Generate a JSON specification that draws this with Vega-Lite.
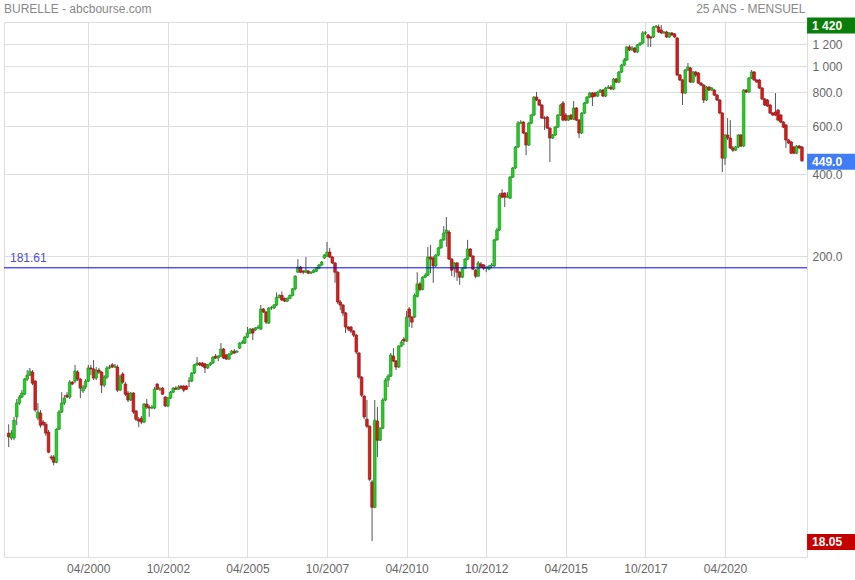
{
"$schema": "https://vega.github.io/schema/vega-lite/v6.json",
"width": 803, "height": 535,
"autosize": {"type": "none"},
"padding": {"left": 4, "top": 22, "right": 48, "bottom": 23},
"background": "white",
"config": {"view": {"stroke": "#dddddd"}, "font": "Liberation Sans"},
"title": {"text": "BURELLE - abcbourse.com", "anchor": "start", "frame": "group", "fontSize": 12, "fontWeight": "normal", "color": "#888888", "font": "Liberation Sans", "offset": 2, "dy": 16},
"datasets": {
"px": [
{"d":"1997-10-01","o":44.9,"h":48.4,"l":39.9,"c":43.5},
{"d":"1997-11-01","o":43.1,"h":46.1,"l":42.3,"c":44.9},
{"d":"1997-12-01","o":43.1,"h":51.5,"l":42.3,"c":50.1},
{"d":"1998-01-01","o":51.5,"h":59.9,"l":48.0,"c":57.9},
{"d":"1998-02-01","o":57.9,"h":61.9,"l":56.9,"c":60.9},
{"d":"1998-03-01","o":60.9,"h":64.6,"l":60.4,"c":63.0},
{"d":"1998-04-01","o":62.4,"h":71.5,"l":61.9,"c":70.9},
{"d":"1998-05-01","o":70.9,"h":76.5,"l":69.7,"c":73.3},
{"d":"1998-06-01","o":73.3,"h":77.9,"l":72.7,"c":75.9},
{"d":"1998-07-01","o":75.2,"h":76.5,"l":67.4,"c":68.5},
{"d":"1998-08-01","o":69.7,"h":70.3,"l":53.7,"c":54.6},
{"d":"1998-09-01","o":51.0,"h":57.9,"l":50.1,"c":53.7},
{"d":"1998-10-01","o":53.2,"h":54.6,"l":47.0,"c":48.0},
{"d":"1998-11-01","o":49.3,"h":50.1,"l":47.6,"c":48.4},
{"d":"1998-12-01","o":48.4,"h":49.3,"l":43.9,"c":44.9},
{"d":"1999-01-01","o":45.3,"h":46.1,"l":37.9,"c":38.2},
{"d":"1999-02-01","o":36.7,"h":37.3,"l":35.7,"c":36.4},
{"d":"1999-03-01","o":36.7,"h":37.3,"l":34.2,"c":35.1},
{"d":"1999-04-01","o":35.1,"h":46.8,"l":34.8,"c":46.4},
{"d":"1999-05-01","o":46.4,"h":54.6,"l":46.1,"c":53.7},
{"d":"1999-06-01","o":53.7,"h":63.5,"l":53.2,"c":57.9},
{"d":"1999-07-01","o":57.9,"h":61.9,"l":56.9,"c":60.4},
{"d":"1999-08-01","o":61.9,"h":63.5,"l":60.4,"c":60.9},
{"d":"1999-09-01","o":60.9,"h":70.3,"l":59.9,"c":69.1},
{"d":"1999-10-01","o":69.1,"h":69.7,"l":67.4,"c":68.0},
{"d":"1999-11-01","o":69.7,"h":79.9,"l":68.5,"c":75.9},
{"d":"1999-12-01","o":75.2,"h":76.5,"l":69.7,"c":70.9},
{"d":"2000-01-01","o":70.9,"h":71.5,"l":60.4,"c":65.7},
{"d":"2000-02-01","o":64.1,"h":67.4,"l":63.0,"c":66.3},
{"d":"2000-03-01","o":66.3,"h":70.9,"l":65.2,"c":69.7},
{"d":"2000-04-01","o":69.7,"h":80.0,"l":69.1,"c":77.9},
{"d":"2000-05-01","o":77.9,"h":80.0,"l":73.3,"c":77.2},
{"d":"2000-06-01","o":77.2,"h":83.3,"l":70.3,"c":71.5},
{"d":"2000-07-01","o":71.5,"h":78.5,"l":70.3,"c":76.5},
{"d":"2000-08-01","o":76.5,"h":77.9,"l":74.0,"c":75.2},
{"d":"2000-09-01","o":75.2,"h":75.9,"l":63.0,"c":67.4},
{"d":"2000-10-01","o":67.4,"h":73.3,"l":66.3,"c":72.1},
{"d":"2000-11-01","o":72.1,"h":79.2,"l":70.9,"c":77.9},
{"d":"2000-12-01","o":77.9,"h":80.0,"l":77.2,"c":78.5},
{"d":"2001-01-01","o":80.0,"h":81.2,"l":77.9,"c":78.5},
{"d":"2001-02-01","o":78.5,"h":80.6,"l":77.9,"c":79.2},
{"d":"2001-03-01","o":78.5,"h":80.0,"l":63.5,"c":64.6},
{"d":"2001-04-01","o":64.6,"h":73.3,"l":64.1,"c":72.7},
{"d":"2001-05-01","o":74.0,"h":75.2,"l":68.0,"c":69.1},
{"d":"2001-06-01","o":68.0,"h":69.1,"l":61.4,"c":62.4},
{"d":"2001-07-01","o":63.0,"h":64.1,"l":58.4,"c":59.4},
{"d":"2001-08-01","o":59.4,"h":63.5,"l":58.9,"c":63.0},
{"d":"2001-09-01","o":63.0,"h":63.5,"l":52.8,"c":53.7},
{"d":"2001-10-01","o":54.1,"h":54.6,"l":49.7,"c":50.5},
{"d":"2001-11-01","o":50.5,"h":51.5,"l":47.2,"c":49.7},
{"d":"2001-12-01","o":50.9,"h":51.9,"l":48.4,"c":49.3},
{"d":"2002-01-01","o":49.3,"h":57.9,"l":48.8,"c":57.4},
{"d":"2002-02-01","o":57.4,"h":59.9,"l":55.0,"c":56.0},
{"d":"2002-03-01","o":56.0,"h":56.9,"l":51.5,"c":55.5},
{"d":"2002-04-01","o":55.5,"h":56.9,"l":55.0,"c":56.0},
{"d":"2002-05-01","o":55.5,"h":66.3,"l":55.0,"c":65.1},
{"d":"2002-06-01","o":68.0,"h":68.5,"l":64.6,"c":65.1},
{"d":"2002-07-01","o":65.1,"h":66.3,"l":64.1,"c":65.2},
{"d":"2002-08-01","o":65.7,"h":66.3,"l":61.9,"c":62.4},
{"d":"2002-09-01","o":60.9,"h":61.4,"l":56.0,"c":56.5},
{"d":"2002-10-01","o":56.5,"h":60.9,"l":56.0,"c":60.4},
{"d":"2002-11-01","o":60.4,"h":64.1,"l":59.9,"c":63.5},
{"d":"2002-12-01","o":63.5,"h":66.3,"l":63.0,"c":65.7},
{"d":"2003-01-01","o":65.7,"h":66.8,"l":64.6,"c":65.1},
{"d":"2003-02-01","o":65.1,"h":67.4,"l":64.6,"c":66.3},
{"d":"2003-03-01","o":66.8,"h":67.4,"l":65.1,"c":65.7},
{"d":"2003-04-01","o":66.8,"h":67.4,"l":63.5,"c":64.6},
{"d":"2003-05-01","o":66.8,"h":67.4,"l":64.6,"c":65.1},
{"d":"2003-06-01","o":69.7,"h":72.1,"l":66.3,"c":69.8},
{"d":"2003-07-01","o":69.7,"h":75.2,"l":69.1,"c":74.6},
{"d":"2003-08-01","o":74.6,"h":80.6,"l":74.0,"c":80.0},
{"d":"2003-09-01","o":80.0,"h":85.4,"l":79.2,"c":81.2},
{"d":"2003-10-01","o":81.2,"h":81.9,"l":79.2,"c":80.0},
{"d":"2003-11-01","o":81.2,"h":81.9,"l":78.5,"c":79.2},
{"d":"2003-12-01","o":80.6,"h":81.2,"l":74.6,"c":77.9},
{"d":"2004-01-01","o":77.9,"h":80.6,"l":77.2,"c":80.0},
{"d":"2004-02-01","o":80.0,"h":81.9,"l":79.2,"c":81.2},
{"d":"2004-03-01","o":81.2,"h":86.1,"l":80.6,"c":85.4},
{"d":"2004-04-01","o":86.1,"h":87.6,"l":84.0,"c":84.7},
{"d":"2004-05-01","o":84.7,"h":86.9,"l":82.6,"c":86.1},
{"d":"2004-06-01","o":86.1,"h":96.1,"l":85.4,"c":91.4},
{"d":"2004-07-01","o":91.4,"h":92.2,"l":84.0,"c":84.7},
{"d":"2004-08-01","o":86.9,"h":87.6,"l":83.3,"c":84.0},
{"d":"2004-09-01","o":84.0,"h":88.4,"l":83.3,"c":87.6},
{"d":"2004-10-01","o":87.6,"h":90.6,"l":86.9,"c":89.8},
{"d":"2004-11-01","o":89.8,"h":91.4,"l":87.6,"c":88.4},
{"d":"2004-12-01","o":89.1,"h":90.6,"l":88.4,"c":89.8},
{"d":"2005-01-01","o":92.1,"h":96.9,"l":91.4,"c":96.1},
{"d":"2005-02-01","o":96.1,"h":98.6,"l":95.3,"c":96.9},
{"d":"2005-03-01","o":96.1,"h":102.0,"l":95.3,"c":101.1},
{"d":"2005-04-01","o":101.1,"h":110.1,"l":100.3,"c":104.6},
{"d":"2005-05-01","o":104.6,"h":109.2,"l":103.8,"c":108.2},
{"d":"2005-06-01","o":108.2,"h":109.2,"l":98.6,"c":104.6},
{"d":"2005-07-01","o":107.3,"h":110.1,"l":106.4,"c":109.2},
{"d":"2005-08-01","o":109.2,"h":111.9,"l":108.2,"c":110.1},
{"d":"2005-09-01","o":108.2,"h":132.6,"l":107.3,"c":128.2},
{"d":"2005-10-01","o":128.2,"h":129.3,"l":124.0,"c":125.0},
{"d":"2005-11-01","o":125.0,"h":126.1,"l":112.9,"c":114.8},
{"d":"2005-12-01","o":113.8,"h":130.4,"l":112.9,"c":129.3},
{"d":"2006-01-01","o":129.3,"h":131.5,"l":127.1,"c":129.8},
{"d":"2006-02-01","o":129.3,"h":133.7,"l":128.2,"c":132.6},
{"d":"2006-03-01","o":132.6,"h":147.5,"l":131.5,"c":141.4},
{"d":"2006-04-01","o":141.4,"h":145.0,"l":140.2,"c":143.8},
{"d":"2006-05-01","o":143.8,"h":148.7,"l":137.1,"c":138.3},
{"d":"2006-06-01","o":140.2,"h":141.4,"l":136.0,"c":137.1},
{"d":"2006-07-01","o":137.1,"h":141.4,"l":136.0,"c":140.2},
{"d":"2006-08-01","o":140.2,"h":145.0,"l":139.1,"c":143.8},
{"d":"2006-09-01","o":143.8,"h":153.3,"l":142.6,"c":152.0},
{"d":"2006-10-01","o":152.0,"h":170.6,"l":150.0,"c":169.2},
{"d":"2006-11-01","o":175.0,"h":195.5,"l":173.6,"c":182.8},
{"d":"2006-12-01","o":182.8,"h":184.4,"l":173.6,"c":175.0},
{"d":"2007-01-01","o":176.5,"h":178.0,"l":172.1,"c":175.0},
{"d":"2007-02-01","o":175.0,"h":198.9,"l":173.6,"c":178.0},
{"d":"2007-03-01","o":176.5,"h":178.0,"l":172.1,"c":173.6},
{"d":"2007-04-01","o":173.6,"h":176.5,"l":172.1,"c":175.0},
{"d":"2007-05-01","o":175.0,"h":179.5,"l":173.6,"c":178.0},
{"d":"2007-06-01","o":176.5,"h":182.8,"l":175.0,"c":181.0},
{"d":"2007-07-01","o":181.0,"h":187.6,"l":179.5,"c":186.0},
{"d":"2007-08-01","o":186.0,"h":192.4,"l":184.4,"c":190.8},
{"d":"2007-09-01","o":197.2,"h":204.0,"l":195.5,"c":202.3},
{"d":"2007-10-01","o":200.5,"h":226.1,"l":198.9,"c":207.5},
{"d":"2007-11-01","o":207.5,"h":215.0,"l":197.2,"c":198.9},
{"d":"2007-12-01","o":198.9,"h":200.5,"l":187.6,"c":189.2},
{"d":"2008-01-01","o":189.2,"h":190.7,"l":160.0,"c":175.0},
{"d":"2008-02-01","o":175.0,"h":176.5,"l":133.7,"c":136.0},
{"d":"2008-03-01","o":136.0,"h":138.3,"l":127.1,"c":132.6},
{"d":"2008-04-01","o":132.6,"h":133.7,"l":121.0,"c":124.0},
{"d":"2008-05-01","o":124.0,"h":125.0,"l":104.6,"c":110.1},
{"d":"2008-06-01","o":110.1,"h":111.0,"l":106.4,"c":108.2},
{"d":"2008-07-01","o":110.1,"h":111.0,"l":104.6,"c":106.4},
{"d":"2008-08-01","o":106.4,"h":107.3,"l":101.1,"c":102.8},
{"d":"2008-09-01","o":102.8,"h":103.7,"l":87.6,"c":89.1},
{"d":"2008-10-01","o":88.4,"h":89.1,"l":70.9,"c":72.1},
{"d":"2008-11-01","o":72.1,"h":72.7,"l":60.9,"c":61.9},
{"d":"2008-12-01","o":61.4,"h":61.9,"l":50.5,"c":51.5},
{"d":"2009-01-01","o":50.5,"h":59.4,"l":46.8,"c":47.6},
{"d":"2009-02-01","o":47.6,"h":48.0,"l":29.9,"c":30.4},
{"d":"2009-03-01","o":29.7,"h":30.2,"l":18.05,"c":24.0},
{"d":"2009-04-01","o":24.0,"h":59.4,"l":23.8,"c":50.1},
{"d":"2009-05-01","o":49.7,"h":56.0,"l":36.7,"c":42.3},
{"d":"2009-06-01","o":42.3,"h":47.2,"l":42.0,"c":46.8},
{"d":"2009-07-01","o":46.8,"h":60.4,"l":46.5,"c":59.4},
{"d":"2009-08-01","o":59.4,"h":71.5,"l":58.9,"c":70.3},
{"d":"2009-09-01","o":70.3,"h":74.0,"l":66.3,"c":72.7},
{"d":"2009-10-01","o":72.7,"h":88.4,"l":72.1,"c":86.9},
{"d":"2009-11-01","o":86.1,"h":92.1,"l":81.9,"c":82.6},
{"d":"2009-12-01","o":82.6,"h":83.3,"l":76.5,"c":78.5},
{"d":"2010-01-01","o":78.5,"h":94.5,"l":77.9,"c":93.7},
{"d":"2010-02-01","o":93.7,"h":98.6,"l":92.9,"c":96.9},
{"d":"2010-03-01","o":99.4,"h":101.1,"l":94.5,"c":97.8},
{"d":"2010-04-01","o":97.8,"h":126.0,"l":96.9,"c":119.8},
{"d":"2010-05-01","o":128.2,"h":130.4,"l":110.1,"c":119.8},
{"d":"2010-06-01","o":119.8,"h":120.8,"l":109.2,"c":114.8},
{"d":"2010-07-01","o":119.8,"h":146.2,"l":118.8,"c":143.8},
{"d":"2010-08-01","o":142.6,"h":175.0,"l":141.4,"c":158.5},
{"d":"2010-09-01","o":158.5,"h":161.3,"l":148.7,"c":151.3},
{"d":"2010-10-01","o":151.3,"h":169.2,"l":150.0,"c":167.8},
{"d":"2010-11-01","o":167.8,"h":173.6,"l":166.4,"c":170.6},
{"d":"2010-12-01","o":170.6,"h":216.8,"l":169.2,"c":198.9},
{"d":"2011-01-01","o":198.9,"h":220.5,"l":173.6,"c":195.5},
{"d":"2011-02-01","o":197.2,"h":200.5,"l":160.0,"c":184.4},
{"d":"2011-03-01","o":184.4,"h":204.0,"l":182.8,"c":202.3},
{"d":"2011-04-01","o":202.3,"h":216.8,"l":200.5,"c":215.0},
{"d":"2011-05-01","o":215.0,"h":232.0,"l":213.2,"c":230.0},
{"d":"2011-06-01","o":230.0,"h":258.5,"l":228.0,"c":243.8},
{"d":"2011-07-01","o":243.8,"h":279.0,"l":217.0,"c":250.0},
{"d":"2011-08-01","o":245.8,"h":250.0,"l":194.0,"c":195.5},
{"d":"2011-09-01","o":195.5,"h":197.2,"l":169.2,"c":178.0},
{"d":"2011-10-01","o":181.0,"h":190.8,"l":167.8,"c":189.2},
{"d":"2011-11-01","o":189.2,"h":190.8,"l":162.6,"c":175.0},
{"d":"2011-12-01","o":175.0,"h":176.5,"l":157.2,"c":167.8},
{"d":"2012-01-01","o":167.8,"h":182.5,"l":166.4,"c":181.0},
{"d":"2012-02-01","o":181.0,"h":197.2,"l":179.5,"c":195.5},
{"d":"2012-03-01","o":195.5,"h":230.0,"l":194.0,"c":212.8},
{"d":"2012-04-01","o":212.8,"h":214.6,"l":198.9,"c":200.5},
{"d":"2012-05-01","o":200.5,"h":202.3,"l":178.0,"c":179.5},
{"d":"2012-06-01","o":178.0,"h":179.5,"l":166.4,"c":169.2},
{"d":"2012-07-01","o":169.2,"h":192.4,"l":167.8,"c":189.2},
{"d":"2012-08-01","o":187.6,"h":190.8,"l":181.0,"c":182.8},
{"d":"2012-09-01","o":186.0,"h":187.6,"l":178.0,"c":181.0},
{"d":"2012-10-01","o":181.0,"h":184.4,"l":175.0,"c":181.5},
{"d":"2012-11-01","o":179.5,"h":186.0,"l":178.0,"c":184.4},
{"d":"2012-12-01","o":184.4,"h":189.2,"l":181.0,"c":186.0},
{"d":"2013-01-01","o":184.4,"h":232.0,"l":182.8,"c":230.0},
{"d":"2013-02-01","o":230.0,"h":254.2,"l":228.0,"c":250.0},
{"d":"2013-03-01","o":250.0,"h":341.3,"l":248.0,"c":335.5},
{"d":"2013-04-01","o":341.3,"h":353.1,"l":327.0,"c":329.9},
{"d":"2013-05-01","o":341.3,"h":344.1,"l":303.5,"c":329.9},
{"d":"2013-06-01","o":329.9,"h":344.1,"l":327.1,"c":332.7},
{"d":"2013-07-01","o":327.1,"h":394.4,"l":324.4,"c":391.1},
{"d":"2013-08-01","o":391.1,"h":426.0,"l":387.8,"c":422.4},
{"d":"2013-09-01","o":422.4,"h":508.5,"l":418.9,"c":504.2},
{"d":"2013-10-01","o":504.2,"h":627.7,"l":500.0,"c":617.2},
{"d":"2013-11-01","o":617.2,"h":633.0,"l":612.0,"c":622.4},
{"d":"2013-12-01","o":622.4,"h":627.7,"l":562.7,"c":567.5},
{"d":"2014-01-01","o":567.5,"h":572.3,"l":470.7,"c":512.8},
{"d":"2014-02-01","o":512.8,"h":622.4,"l":508.5,"c":617.2},
{"d":"2014-03-01","o":617.2,"h":666.0,"l":612.0,"c":660.5},
{"d":"2014-04-01","o":660.5,"h":775.6,"l":655.0,"c":769.1},
{"d":"2014-05-01","o":769.1,"h":803.0,"l":743.7,"c":750.0},
{"d":"2014-06-01","o":750.0,"h":756.4,"l":713.0,"c":719.0},
{"d":"2014-07-01","o":719.0,"h":725.0,"l":638.5,"c":644.0},
{"d":"2014-08-01","o":644.0,"h":655.0,"l":582.0,"c":643.0},
{"d":"2014-09-01","o":649.5,"h":655.0,"l":587.0,"c":591.6},
{"d":"2014-10-01","o":591.6,"h":596.6,"l":444.4,"c":543.9},
{"d":"2014-11-01","o":543.9,"h":562.6,"l":539.4,"c":557.9},
{"d":"2014-12-01","o":557.9,"h":601.7,"l":553.2,"c":596.6},
{"d":"2015-01-01","o":596.6,"h":666.0,"l":591.6,"c":660.5},
{"d":"2015-02-01","o":660.5,"h":725.0,"l":655.0,"c":719.0},
{"d":"2015-03-01","o":731.3,"h":743.7,"l":627.7,"c":633.0},
{"d":"2015-04-01","o":660.5,"h":671.6,"l":627.7,"c":633.0},
{"d":"2015-05-01","o":633.0,"h":660.5,"l":627.7,"c":655.0},
{"d":"2015-06-01","o":660.5,"h":666.0,"l":633.0,"c":638.5},
{"d":"2015-07-01","o":638.5,"h":743.7,"l":633.0,"c":701.0},
{"d":"2015-08-01","o":701.0,"h":707.0,"l":627.7,"c":633.0},
{"d":"2015-09-01","o":633.0,"h":638.5,"l":544.0,"c":567.5},
{"d":"2015-10-01","o":567.5,"h":677.4,"l":562.7,"c":671.8},
{"d":"2015-11-01","o":671.8,"h":737.5,"l":666.0,"c":731.3},
{"d":"2015-12-01","o":731.3,"h":775.6,"l":725.0,"c":769.1},
{"d":"2016-01-01","o":769.1,"h":802.3,"l":762.6,"c":795.6},
{"d":"2016-02-01","o":795.6,"h":802.3,"l":713.0,"c":769.1},
{"d":"2016-03-01","o":795.6,"h":802.3,"l":769.1,"c":775.6},
{"d":"2016-04-01","o":775.6,"h":809.0,"l":769.1,"c":802.3},
{"d":"2016-05-01","o":802.3,"h":823.0,"l":795.6,"c":816.0},
{"d":"2016-06-01","o":816.0,"h":823.0,"l":769.1,"c":775.6},
{"d":"2016-07-01","o":775.6,"h":836.9,"l":769.1,"c":829.9},
{"d":"2016-08-01","o":829.9,"h":851.0,"l":823.0,"c":836.9},
{"d":"2016-09-01","o":836.9,"h":851.0,"l":816.0,"c":823.0},
{"d":"2016-10-01","o":823.0,"h":903.7,"l":816.0,"c":896.1},
{"d":"2016-11-01","o":896.1,"h":903.7,"l":865.7,"c":873.0},
{"d":"2016-12-01","o":873.0,"h":958.8,"l":865.7,"c":950.8},
{"d":"2017-01-01","o":950.8,"h":1017,"l":942.8,"c":1008.4},
{"d":"2017-02-01","o":1008.4,"h":1070,"l":1000,"c":1052},
{"d":"2017-03-01","o":1052,"h":1184.4,"l":1043,"c":1174.4},
{"d":"2017-04-01","o":1174.4,"h":1194,"l":1135,"c":1145},
{"d":"2017-05-01","o":1145,"h":1184.4,"l":1135,"c":1164.5},
{"d":"2017-06-01","o":1164.5,"h":1174.4,"l":1116,"c":1126},
{"d":"2017-07-01","o":1126,"h":1204,"l":1116,"c":1194},
{"d":"2017-08-01","o":1194,"h":1225,"l":1184.4,"c":1214},
{"d":"2017-09-01","o":1214,"h":1345,"l":1204,"c":1322},
{"d":"2017-10-01","o":1322,"h":1345,"l":1300,"c":1325},
{"d":"2017-11-01","o":1300,"h":1311,"l":1174.4,"c":1267},
{"d":"2017-12-01","o":1278,"h":1289,"l":1174.4,"c":1267},
{"d":"2018-01-01","o":1278,"h":1402,"l":1267,"c":1390},
{"d":"2018-02-01","o":1390,"h":1414,"l":1379,"c":1402},
{"d":"2018-03-01","o":1390,"h":1420,"l":1322,"c":1333},
{"d":"2018-04-01","o":1356,"h":1414,"l":1311,"c":1322},
{"d":"2018-05-01","o":1322,"h":1345,"l":1311,"c":1333},
{"d":"2018-06-01","o":1333,"h":1345,"l":1267,"c":1278},
{"d":"2018-07-01","o":1278,"h":1333,"l":1267,"c":1322},
{"d":"2018-08-01","o":1322,"h":1333,"l":1289,"c":1300},
{"d":"2018-09-01","o":1311,"h":1322,"l":1267,"c":1278},
{"d":"2018-10-01","o":1267,"h":1278,"l":919,"c":927},
{"d":"2018-11-01","o":927,"h":934.6,"l":880.5,"c":888},
{"d":"2018-12-01","o":888,"h":895.5,"l":719,"c":795.6},
{"d":"2019-01-01","o":795.6,"h":975,"l":789,"c":967},
{"d":"2019-02-01","o":967,"h":1026,"l":958.8,"c":991.6},
{"d":"2019-03-01","o":983,"h":991.6,"l":865.7,"c":873},
{"d":"2019-04-01","o":873,"h":958.8,"l":865.7,"c":950.8},
{"d":"2019-05-01","o":950.8,"h":958.8,"l":911,"c":927},
{"d":"2019-06-01","o":942.8,"h":950.8,"l":858.5,"c":865.7},
{"d":"2019-07-01","o":865.7,"h":873,"l":843.9,"c":851},
{"d":"2019-08-01","o":851,"h":858.5,"l":731.3,"c":750},
{"d":"2019-09-01","o":750,"h":844,"l":743.7,"c":836.9},
{"d":"2019-10-01","o":836.9,"h":844,"l":809,"c":816},
{"d":"2019-11-01","o":816,"h":836.9,"l":809,"c":829.9},
{"d":"2019-12-01","o":816,"h":823,"l":775.6,"c":782.2},
{"d":"2020-01-01","o":782.2,"h":789,"l":743.7,"c":750},
{"d":"2020-02-01","o":750,"h":756.4,"l":666,"c":671.8},
{"d":"2020-03-01","o":671.8,"h":677.4,"l":408,"c":458.9},
{"d":"2020-04-01","o":458.9,"h":562.6,"l":433.3,"c":557.9},
{"d":"2020-05-01","o":557.9,"h":644,"l":535,"c":544},
{"d":"2020-06-01","o":544,"h":633,"l":495.8,"c":500},
{"d":"2020-07-01","o":500,"h":508.5,"l":482.8,"c":491},
{"d":"2020-08-01","o":491,"h":508.5,"l":487,"c":504.2},
{"d":"2020-09-01","o":504.2,"h":562.6,"l":500,"c":557.9},
{"d":"2020-10-01","o":557.9,"h":562.6,"l":504.2,"c":508.5},
{"d":"2020-11-01","o":508.5,"h":823,"l":504.2,"c":816},
{"d":"2020-12-01","o":816,"h":823,"l":795.6,"c":803},
{"d":"2021-01-01","o":803,"h":911,"l":795.6,"c":903.7},
{"d":"2021-02-01","o":903.7,"h":967,"l":896.1,"c":950.8},
{"d":"2021-03-01","o":950.8,"h":958.8,"l":880.5,"c":888},
{"d":"2021-04-01","o":888,"h":896.1,"l":865.7,"c":873},
{"d":"2021-05-01","o":888,"h":896.1,"l":823,"c":829.9},
{"d":"2021-06-01","o":829.9,"h":836.9,"l":750,"c":756.4},
{"d":"2021-07-01","o":756.4,"h":763,"l":713,"c":719},
{"d":"2021-08-01","o":750,"h":756.4,"l":707,"c":713},
{"d":"2021-09-01","o":719,"h":725,"l":666,"c":671.8},
{"d":"2021-10-01","o":671.8,"h":677.4,"l":655,"c":660.5},
{"d":"2021-11-01","o":677.4,"h":795.6,"l":655,"c":660.5},
{"d":"2021-12-01","o":689,"h":694.8,"l":627.7,"c":633},
{"d":"2022-01-01","o":660.5,"h":666,"l":617.2,"c":622.4},
{"d":"2022-02-01","o":622.4,"h":627.7,"l":591.6,"c":596.6},
{"d":"2022-03-01","o":607,"h":612,"l":500,"c":535},
{"d":"2022-04-01","o":535,"h":539.5,"l":517,"c":521.6},
{"d":"2022-05-01","o":526,"h":530.5,"l":474.7,"c":478.7},
{"d":"2022-06-01","o":504.2,"h":508.5,"l":474.7,"c":478.7},
{"d":"2022-07-01","o":478.7,"h":512.8,"l":474.7,"c":508.5},
{"d":"2022-08-01","o":508.5,"h":512.8,"l":495.8,"c":500},
{"d":"2022-09-01","o":504.2,"h":508.5,"l":444.4,"c":449.0}
],
"tags": [
{"v":1420,"t":"1 420","k":"hi"},
{"v":449.0,"t":"449.0","k":"last"},
{"v":18.05,"t":"18.05","k":"lo"}
],
"ref": [
{"v":181.61,"t":"181.61","d":"1997-10-16"}
]
},
"layer": [
{
"data": {"name": "px"},
"mark": {"type": "rule", "color": "#555555", "strokeWidth": 1},
"encoding": {
"x": {"field": "d", "type": "temporal",
"scale": {"type": "utc", "padding": 0, "domain": [{"year": 1997, "month": 8, "date": 8, "utc": true}, {"year": 2022, "month": 10, "date": 29, "utc": true}]},
"axis": {"title": null, "values": [
{"year": 2000, "month": 4, "date": 1, "utc": true},
{"year": 2002, "month": 10, "date": 1, "utc": true},
{"year": 2005, "month": 4, "date": 1, "utc": true},
{"year": 2007, "month": 10, "date": 1, "utc": true},
{"year": 2010, "month": 4, "date": 1, "utc": true},
{"year": 2012, "month": 10, "date": 1, "utc": true},
{"year": 2015, "month": 4, "date": 1, "utc": true},
{"year": 2017, "month": 10, "date": 1, "utc": true},
{"year": 2020, "month": 4, "date": 1, "utc": true}],
"format": "%m/%Y", "grid": true, "gridColor": "#dddddd", "gridWidth": 1, "ticks": false, "domain": false,
"labelPadding": 6, "labelFontSize": 12, "labelColor": "#666666", "labelFont": "Liberation Sans", "labelFlush": false, "labelOverlap": false}},
"y": {"field": "l", "type": "quantitative",
"scale": {"type": "log", "domain": [15.76, 1450.6], "nice": false, "zero": false, "padding": 0},
"axis": {"orient": "right", "values": [200, 400, 600, 800, 1000, 1200],
"labelExpr": "datum.value == 1200 ? '1 200' : datum.value == 1000 ? '1 000' : format(datum.value, '.1f')",
"grid": true, "gridColor": "#dddddd", "gridWidth": 1, "ticks": false, "domain": false, "labelPadding": 5,
"labelFontSize": 12, "labelColor": "#666666", "labelFont": "Liberation Sans", "labelOverlap": false, "labelBaseline": "middle",
"title": "25 ANS - MENSUEL", "titleAngle": 0, "titleAlign": "right", "titleBaseline": "alphabetic", "titleX": -2, "titleY": -10,
"titleFontSize": 12, "titleFontWeight": "normal", "titleColor": "#888888", "titleFont": "Liberation Sans"}},
"y2": {"field": "h"}
}
},
{
"data": {"name": "px"},
"mark": {"type": "bar", "size": 2.6, "strokeWidth": 0.7},
"encoding": {
"x": {"field": "d", "type": "temporal"},
"y": {"field": "o", "type": "quantitative"},
"y2": {"field": "c"},
"color": {"condition": {"test": "datum.c >= datum.o", "value": "#22d022"}, "value": "#d41f1f"},
"stroke": {"condition": {"test": "datum.c >= datum.o", "value": "#1a961a"}, "value": "#9c1212"}
}
},
{
"data": {"name": "ref"},
"mark": {"type": "rule", "color": "#0000ff", "strokeWidth": 1},
"encoding": {"y": {"field": "v", "type": "quantitative"}}
},
{
"data": {"name": "ref"},
"mark": {"type": "text", "align": "left", "baseline": "alphabetic", "dy": -6, "fontSize": 12, "color": "#4a4ae6", "font": "Liberation Sans"},
"encoding": {
"x": {"field": "d", "type": "temporal"},
"y": {"field": "v", "type": "quantitative"},
"text": {"field": "t"}
}
},
{
"data": {"name": "tags"},
"mark": {"type": "tick", "orient": "horizontal", "size": 48, "thickness": 16, "opacity": 1, "yOffset": 1},
"encoding": {
"x": {"datum": {"year": 2023, "month": 8, "date": 1, "utc": true}, "type": "temporal"},
"y": {"field": "v", "type": "quantitative"},
"color": {"field": "k", "type": "nominal", "scale": {"domain": ["hi", "last", "lo"], "range": ["#0b7d0b", "#3f7cf5", "#c40000"]}, "legend": null}
}
},
{
"data": {"name": "tags"},
"mark": {"type": "text", "align": "left", "baseline": "middle", "fontSize": 12, "fontWeight": "bold", "color": "#ffffff", "font": "Liberation Sans", "yOffset": 1},
"encoding": {
"x": {"datum": {"year": 2022, "month": 12, "date": 26, "utc": true}, "type": "temporal"},
"y": {"field": "v", "type": "quantitative"},
"text": {"field": "t"}
}
}
]
}
